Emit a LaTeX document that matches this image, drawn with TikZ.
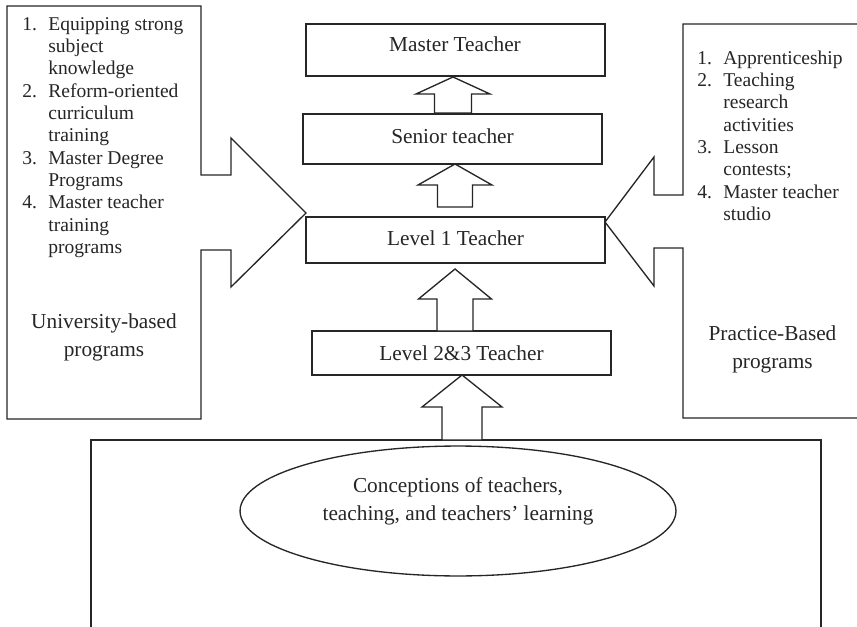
\documentclass[tikz,border=0pt]{standalone}
\usepackage{fontspec}
\setmainfont{Liberation Serif}
\usetikzlibrary{shapes.geometric}

% one drawing unit = one pixel of the layout grid
\newlength\pxu
\setlength\pxu{0.5634pt}
\definecolor{ink}{HTML}{262626}

\tikzset{
  outline/.style={draw=ink, line width=0.75pt, line join=miter},
  tier/.style={outline, rectangle, minimum width=168.46pt, inner sep=0pt},
  caption/.style={font=\fontsize{12}{15.8}\selectfont, align=center, text=ink, inner sep=0pt},
  listtext/.style={font=\fontsize{11}{12.56}\selectfont, text=ink, inner sep=0pt, anchor=base west},
  uparrow/.style={outline, fill=white},
}

% hollow upward block arrow:
% #1 tip x, #2 tip y, #3 head base y, #4 shaft bottom y, #5 half head width, #6 half shaft width
\newcommand\blockup[6]{%
  \draw[uparrow] (#1-#6,#4) -- (#1-#6,#3) -- (#1-#5,#3) -- (#1,#2)
    -- (#1+#5,#3) -- (#1+#6,#3) -- (#1+#6,#4) -- cycle;}

\begin{document}
\begin{tikzpicture}[x=\pxu, y=-\pxu]
  \fill[white, use as bounding box] (0,0) rectangle (857,627);
  \clip (0,0) rectangle (857,627);

  % university-based callout pointing right
  \draw[outline] (7,6) -- (201,6) -- (201,175) -- (231,175) -- (231,138)
    -- (306,213) -- (231,287) -- (231,250) -- (201,250) -- (201,419)
    -- (7,419) -- cycle;

  % practice-based callout pointing left
  \draw[outline] (870,24) -- (683,24) -- (683,195) -- (654,195) -- (654,157)
    -- (605,222) -- (654,286) -- (654,248) -- (683,248) -- (683,418)
    -- (870,418);

  % foundation frame, open at the bottom
  \draw[outline] (91,650) -- (91,440) -- (821,440) -- (821,650);

  % career ladder
  \node[tier, minimum height=29.30pt] (master)   at (455.5,50)  {};
  \node[tier, minimum height=28.17pt] (senior)   at (452.5,139) {};
  \node[tier, minimum height=25.92pt] (levelone) at (455.5,240) {};
  \node[tier, minimum height=24.79pt] (leveltwo) at (461.5,353) {};

  \node[caption] (mastertext)   at (455,44)    {Master Teacher};
  \node[caption] (seniortext)   at (452.5,136) {Senior teacher};
  \node[caption] (levelonetext) at (455.5,238) {Level 1 Teacher};
  \node[caption] (leveltwotext) at (461.5,353) {Level 2\&3 Teacher};

  % promotion arrows
  \blockup{453}{77}{94}{113}{37}{18.5}
  \blockup{455}{164}{185}{207}{37}{17.5}
  \blockup{455}{269}{299}{331}{36.5}{18}
  \blockup{462}{375}{407}{440}{40}{20}

  % conceptions ellipse
  \node[outline, ellipse, minimum width=245.6pt, minimum height=73.2pt, inner sep=0pt]
    (conceptions) at (458,511) {};
  \node[caption] (conceptionstext) at (458,501)
    {Conceptions of teachers,\\teaching, and teachers’ learning};

  % program lists
  \node[listtext] (unilist) at (22,30.4) {%
    \begin{tabular}[t]{@{}p{14.65pt}@{}l@{}}
      1. & Equipping strong\\
         & subject\\
         & knowledge\\
      2. & Reform-oriented\\
         & curriculum\\
         & training\\
      3. & Master Degree\\
         & Programs\\
      4. & Master teacher\\
         & training\\
         & programs
    \end{tabular}};
  \node[caption] (unititle) at (104,337) {University-based\\programs};

  \node[listtext] (praclist) at (697,64.4) {%
    \begin{tabular}[t]{@{}p{14.65pt}@{}l@{}}
      1. & Apprenticeship\\
      2. & Teaching\\
         & research\\
         & activities\\
      3. & Lesson\\
         & contests;\\
      4. & Master teacher\\
         & studio
    \end{tabular}};
  \node[caption] (practitle) at (772.5,349) {Practice-Based\\programs};
\end{tikzpicture}
\end{document}
